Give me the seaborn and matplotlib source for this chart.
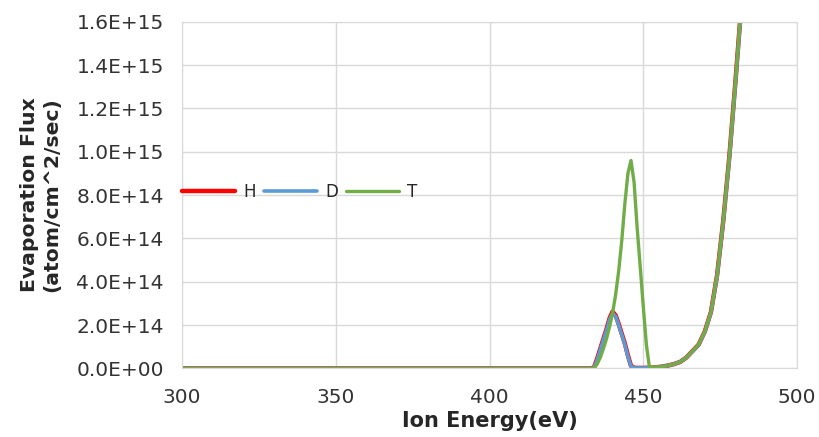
import numpy as np
import pandas as pd
import matplotlib
matplotlib.use("Agg")
import matplotlib.pyplot as plt
from matplotlib.ticker import FuncFormatter, MultipleLocator
import seaborn as sns

# Ion energy (eV) and evaporation flux (units of 1E+14 atom/cm^2/sec)
energy = [300, 320, 340, 360, 380, 400, 420, 430, 432,
          433, 434, 435, 436, 437, 438, 439, 440, 441, 442,
          443, 444, 445, 446, 447, 448, 449, 450, 451, 452,
          454, 456, 458, 460, 462, 464, 466, 468, 470, 472,
          474, 476, 478, 480, 482, 484, 486]

flux_h = [0, 0, 0, 0, 0, 0, 0, 0, 0,
          0, 0.05, 0.45, 0.9, 1.35, 1.8, 2.3, 2.62, 2.45, 2.05,
          1.6, 1.15, 0.6, 0.12, 0.03, 0.02, 0.02, 0.02, 0.03, 0.03,
          0.05, 0.08, 0.13, 0.2, 0.3, 0.5, 0.8, 1.1, 1.7, 2.6,
          4.3, 6.8, 9.8, 13.3, 17.0, 21.0, 25.0]

flux_d = [0, 0, 0, 0, 0, 0, 0, 0, 0,
          0, 0.03, 0.4, 0.85, 1.3, 1.75, 2.25, 2.55, 2.4, 2.0,
          1.55, 1.1, 0.55, 0.1, 0.02, 0.02, 0.02, 0.02, 0.03, 0.03,
          0.05, 0.08, 0.13, 0.2, 0.3, 0.5, 0.79, 1.09, 1.68, 2.57,
          4.25, 6.75, 9.7, 13.2, 16.9, 20.9, 24.9]

flux_t = [0, 0, 0, 0, 0, 0, 0, 0, 0,
          0, 0.02, 0.2, 0.5, 0.9, 1.35, 1.9, 2.55, 3.4, 4.5,
          5.9, 7.6, 9.0, 9.6, 8.6, 6.5, 4.7, 2.85, 1.1, 0.05,
          0.06, 0.08, 0.13, 0.2, 0.3, 0.5, 0.8, 1.1, 1.7, 2.6,
          4.3, 6.8, 9.8, 13.3, 17.0, 21.0, 25.0]

series = {"H": flux_h, "D": flux_d, "T": flux_t}
colors = {"H": "#ff0000", "D": "#5b9bd5", "T": "#70ad47"}
widths = {"H": 3.2, "D": 2.6, "T": 2.4}

sns.set_style("whitegrid", {"grid.color": "#d9d9d9", "axes.edgecolor": "#d9d9d9"})
plt.rcParams["font.family"] = ["DejaVu Sans"]

fig = plt.figure(figsize=(8.2, 4.37), dpi=100)
ax = fig.add_axes([0.222, 0.157, 0.750, 0.793])

for name, vals in series.items():
    df = pd.DataFrame({"energy": energy, "flux": np.array(vals) * 1e14})
    sns.lineplot(data=df, x="energy", y="flux", ax=ax, color=colors[name],
                 linewidth=widths[name], label=name)

ax.set_xlim(300, 500)
ax.set_ylim(0, 1.6e15)
ax.xaxis.set_major_locator(MultipleLocator(50))
ax.yaxis.set_major_locator(MultipleLocator(2e14))
ax.yaxis.set_major_formatter(FuncFormatter(lambda v, p: f"{v:.1E}"))
ax.tick_params(axis="y", labelsize=14.5, pad=13, length=0, colors="#333333")
ax.tick_params(axis="x", labelsize=14.5, pad=14, length=0, colors="#333333")
ax.grid(True, color="#d9d9d9", linewidth=1)

ax.set_xlabel("Ion Energy(eV)", fontsize=15, fontweight="bold", labelpad=3)
ax.set_ylabel("Evaporation Flux\n(atom/cm^2/sec)", fontsize=14.7, fontweight="bold",
              linespacing=1.2, labelpad=11)

ax.legend(loc="center left", bbox_to_anchor=(0.0, 0.51), ncol=3, frameon=False,
          fontsize=12, handlelength=3.2, handletextpad=0.5, columnspacing=0.45,
          borderpad=0, borderaxespad=0)

fig.savefig("out.png", dpi=100)
